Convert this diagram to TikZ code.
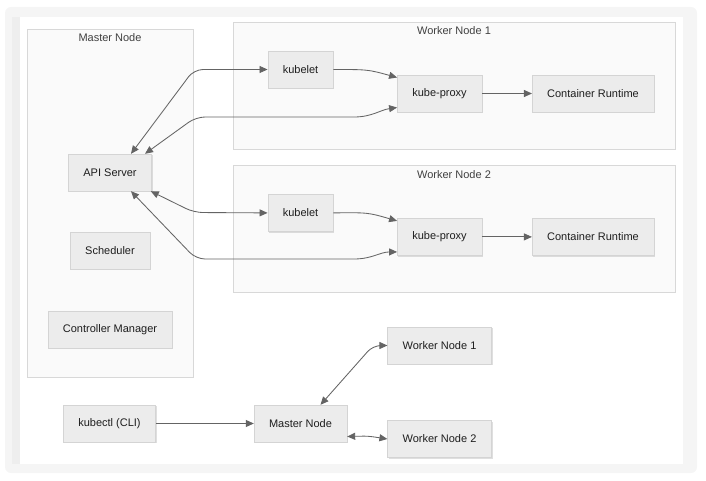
\documentclass[tikz,border=0pt]{standalone}
\usepackage{fontspec}
\setmainfont{Liberation Sans}
\usetikzlibrary{arrows.meta,positioning,shadows}
\definecolor{kubeBoxFill}{RGB}{236,236,236}
\definecolor{kubeBoxLine}{RGB}{212,212,212}
\definecolor{kubeCluster}{RGB}{250,250,250}
\definecolor{kubeClusterLine}{RGB}{216,216,216}
\definecolor{kubeEdge}{RGB}{100,100,100}
\definecolor{kubeBack}{RGB}{245,245,245}
\definecolor{kubeStrip}{RGB}{238,238,238}
\definecolor{kubeText}{RGB}{30,30,30}

\begin{document}
\begin{tikzpicture}[x=1pt,y=-1pt,
  comp/.style={draw=kubeBoxLine,fill=kubeBoxFill,minimum height=37pt,inner xsep=15pt,font=\fontsize{11}{13}\selectfont,text=kubeText,drop shadow={shadow xshift=1.2pt,shadow yshift=-1.2pt,opacity=0.25}},
  cluster/.style={draw=kubeClusterLine,fill=kubeCluster,drop shadow={shadow xshift=1pt,shadow yshift=-1pt,opacity=0.15}},
  clabel/.style={font=\fontsize{11}{13}\selectfont,text=kubeText!85},
  link/.style={draw=kubeEdge,line width=0.85pt,-{Triangle[length=8pt,width=7pt]}},
  dlink/.style={link,{Triangle[length=8pt,width=7pt]}-{Triangle[length=8pt,width=7pt]}}]
\useasboundingbox (0,0) rectangle (706,481);
% page frame
\fill[kubeBack,rounded corners=6pt] (5,7) rectangle (697,473);
\fill[kubeStrip] (12,17) rectangle (20,464);
\fill[white] (20,17) rectangle (683,464);

% clusters
\draw[cluster] (27,29) rectangle (193,377);
\node[clabel] (mlab) at (110,38) {Master Node};
\draw[cluster] (233,22) rectangle (675,149);
\node[clabel] (w1lab) at (454,31) {Worker Node 1};
\draw[cluster] (233,165) rectangle (675,292);
\node[clabel] (w2lab) at (454,174.5) {Worker Node 2};

% master components
\node[comp] (api) at (110,172.5) {API Server};
\node[comp] (sch) at (110,250.5) {Scheduler};
\node[comp] (cm) at (110,329.5) {Controller Manager};

% worker components
\node[comp] (kl1) at (300.5,69.5) {kubelet};
\node[comp] (kp1) at (439.5,93.5) {kube-proxy};
\node[comp] (cr1) at (593,93.5) {Container Runtime};
\node[comp,below=106pt of kl1] (kl2) {kubelet};
\node[comp,below=106pt of kp1] (kp2) {kube-proxy};
\node[comp,below=106pt of cr1] (cr2) {Container Runtime};

% overview row
\node[comp] (cli) at (109.5,423.5) {kubectl (CLI)};
\node[comp] (mn) at (300.5,423.5) {Master Node};
\node[comp] (wn1) at (439.5,345.5) {Worker Node 1};
\node[comp] (wn2) at (439.5,439) {Worker Node 2};

\draw[dlink,rounded corners=9pt] ([xshift=21pt]api.north) -- (194,69.5) -- (kl1.west);
\draw[dlink,rounded corners=9pt] ([xshift=35pt]api.north) -- (196,117) -- (345,117) .. controls (372,117) and (380,110) .. ([yshift=-14pt]kp1.west);
\draw[link] (kl1.east) .. controls (368,69.5) .. ([yshift=16pt]kp1.west);
\draw[link] (kp1) -- (cr1);

\draw[dlink,rounded corners=9pt] ([xshift=-1pt]api.south east) -- (194,212.5) -- (kl2.west);
\draw[dlink,rounded corners=9pt] ([xshift=21pt]api.south) -- (196,259) -- (345,259) .. controls (372,259) and (380,252) .. ([yshift=-15pt]kp2.west);
\draw[link] (kl2.east) .. controls (368,212.5) .. ([yshift=16pt]kp2.west);
\draw[link] (kp2) -- (cr2);

\draw[link] (cli) -- (mn);
\draw[dlink,rounded corners=8pt] ([xshift=20pt]mn.north) -- (373,345.5) -- (wn1.west);
\draw[dlink] ([yshift=-13pt]mn.east) .. controls (368,436) .. (wn2.west);
\end{tikzpicture}
\end{document}
